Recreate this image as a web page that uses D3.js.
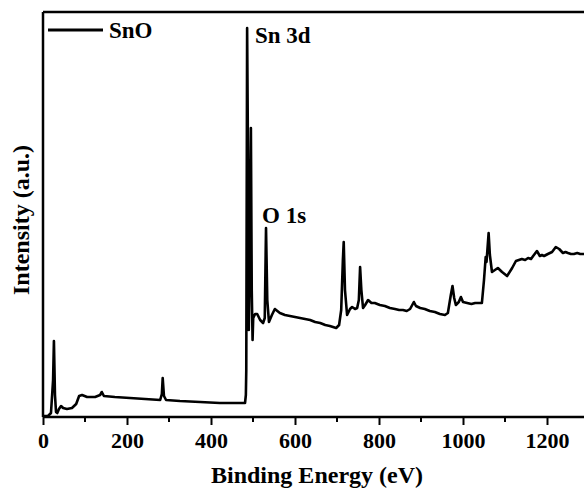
<!DOCTYPE html>
<html lang="en">
<head>
    <meta charset="UTF-8">
    <title>SnO XPS Survey</title>
    <script src="https://d3js.org/d3.v7.min.js"></script>
    <style>
        body {
            margin: 0;
            background-color: white;
            overflow: hidden;
        }
        text {
            font-family: "Liberation Serif", "Times New Roman", "DejaVu Serif", serif;
            font-weight: bold;
            fill: black;
        }
    </style>
</head>
<body>
    <div id="chart"></div>

    <script>
        // Survey spectrum (binding energy in eV, intensity in a.u.)
        const energy = [
            0, 12, 19, 24, 26, 28.5, 31, 34, 38, 43, 48, 57, 69, 79, 86, 93, 105, 124, 136, 140,
            145, 171, 207, 243, 279, 283, 285, 288, 293, 326, 374, 421, 469, 481, 483, 484, 486,
            488, 490, 492.5, 495, 497, 499, 500.5, 505, 510, 517, 524, 528, 531, 534, 538, 545,
            552, 564, 576, 588, 600, 612, 624, 636, 648, 660, 672, 683, 698, 705, 710, 714, 716,
            719, 724, 731, 736, 743, 748, 752, 755, 758, 762, 767, 774, 782, 790, 802, 814, 826,
            838, 848, 857, 866, 874, 883, 888, 898, 909, 921, 933, 945, 957, 964, 971, 975, 979,
            983, 990, 995, 1000, 1010, 1020, 1029, 1038, 1045, 1050, 1054, 1056, 1061, 1064,
            1069, 1076, 1083, 1093, 1105, 1117, 1126, 1133, 1140, 1148, 1155, 1162, 1167, 1176,
            1183, 1188, 1193, 1202, 1212, 1221, 1229, 1238, 1244, 1250, 1257, 1264, 1272, 1279,
            1288, 1302
        ];
        const intensity = [
            1, 1, 4, 37, 76, 22, 5, 4, 8, 11, 9, 8, 9, 13, 21, 22, 20, 20, 22, 25,
            21, 20, 19, 18, 17, 23, 39, 21, 17, 16, 15, 14, 14, 14, 22, 47, 389,
            267, 87, 167, 289, 127, 77, 99, 103, 103, 97, 94, 99, 189, 117, 95, 102,
            108, 104, 102, 101, 100, 99, 98, 97, 95, 94, 92, 91, 89, 92, 107, 157, 175,
            127, 102, 108, 110, 108, 109, 117, 150, 127, 109, 112, 117, 114, 114, 112, 111, 109,
            108, 107, 107, 106, 108, 115, 111, 109, 108, 106, 105, 103, 102, 104, 122, 131, 119,
            112, 115, 120, 115, 114, 113, 114, 114, 114, 137, 160, 155, 184, 162,
            145, 147, 149, 145, 141, 149, 156, 157, 158, 157, 159, 158, 161, 166,
            161, 162, 161, 163, 165, 170, 168, 164, 165, 164, 163, 163, 164, 163,
            163, 162
        ];
        const seriesName = "SnO";
        const majorTicks = [0, 200, 400, 600, 800, 1000, 1200];
        const minorTicks = [100, 300, 500, 700, 900, 1100, 1300];
        const peakLabels = ["Sn 3d", "O 1s"];

        const width = 584;
        const height = 491;
        const margin = { top: 12, left: 43, bottom: 74 };
        const plotBottom = height - margin.bottom;

        const svg = d3.select("#chart")
            .append("svg")
            .attr("width", width)
            .attr("height", height);

        // x runs past the right edge of the picture, as in the reference
        const x = d3.scaleLinear()
            .domain([0, 1300])
            .range([margin.left, margin.left + 0.42 * 1300]);

        const y = d3.scaleLinear()
            .domain([0, 405])
            .range([plotBottom, margin.top]);

        const data = energy.map((e, i) => ({ e: e, v: intensity[i] }));

        // Spectrum
        const line = d3.line()
            .x(d => x(d.e))
            .y(d => y(d.v));

        svg.append("path")
            .datum(data)
            .attr("d", line)
            .attr("fill", "none")
            .attr("stroke", "black")
            .attr("stroke-width", 2.6)
            .attr("stroke-linejoin", "round");

        // Frame: top and left lines (right side is cut off)
        svg.append("line")
            .attr("x1", margin.left)
            .attr("x2", width + 10)
            .attr("y1", margin.top)
            .attr("y2", margin.top)
            .attr("stroke", "black")
            .attr("stroke-width", 2.5);

        svg.append("line")
            .attr("x1", margin.left)
            .attr("x2", margin.left)
            .attr("y1", margin.top)
            .attr("y2", plotBottom)
            .attr("stroke", "black")
            .attr("stroke-width", 2.5);

        // Bottom axis with major and minor ticks
        const xAxis = d3.axisBottom(x)
            .tickValues(majorTicks)
            .tickSize(8)
            .tickPadding(7)
            .tickFormat(d3.format("d"));

        const gx = svg.append("g")
            .attr("transform", `translate(0, ${plotBottom})`)
            .call(xAxis);

        gx.select(".domain")
            .attr("stroke-width", 2.5)
            .attr("d", `M${margin.left},0H${width + 10}`);
        gx.selectAll(".tick line").attr("stroke-width", 2);
        gx.selectAll(".tick text")
            .style("font-family", "'Liberation Serif', 'Times New Roman', serif")
            .style("font-weight", "bold")
            .style("font-size", "22px");

        svg.append("g")
            .selectAll("line")
            .data(minorTicks)
            .enter()
            .append("line")
            .attr("x1", d => x(d))
            .attr("x2", d => x(d))
            .attr("y1", plotBottom)
            .attr("y2", plotBottom + 5)
            .attr("stroke", "black")
            .attr("stroke-width", 2);

        // Axis titles
        svg.append("text")
            .attr("x", 317)
            .attr("y", 483)
            .attr("text-anchor", "middle")
            .style("font-size", "24px")
            .text("Binding Energy (eV)");

        svg.append("text")
            .attr("transform", "translate(29, 220) rotate(-90)")
            .attr("text-anchor", "middle")
            .style("font-size", "24px")
            .text("Intensity (a.u.)");

        // Legend
        svg.append("line")
            .attr("x1", 48)
            .attr("x2", 103)
            .attr("y1", 30)
            .attr("y2", 30)
            .attr("stroke", "black")
            .attr("stroke-width", 2.8);

        svg.append("text")
            .attr("x", 109)
            .attr("y", 38)
            .style("font-size", "23px")
            .text(seriesName);

        // Peak labels
        svg.append("text")
            .attr("x", 255)
            .attr("y", 43)
            .style("font-size", "23px")
            .text(peakLabels[0]);

        svg.append("text")
            .attr("x", 262)
            .attr("y", 223)
            .style("font-size", "23px")
            .text(peakLabels[1]);
    </script>
</body>
</html>
